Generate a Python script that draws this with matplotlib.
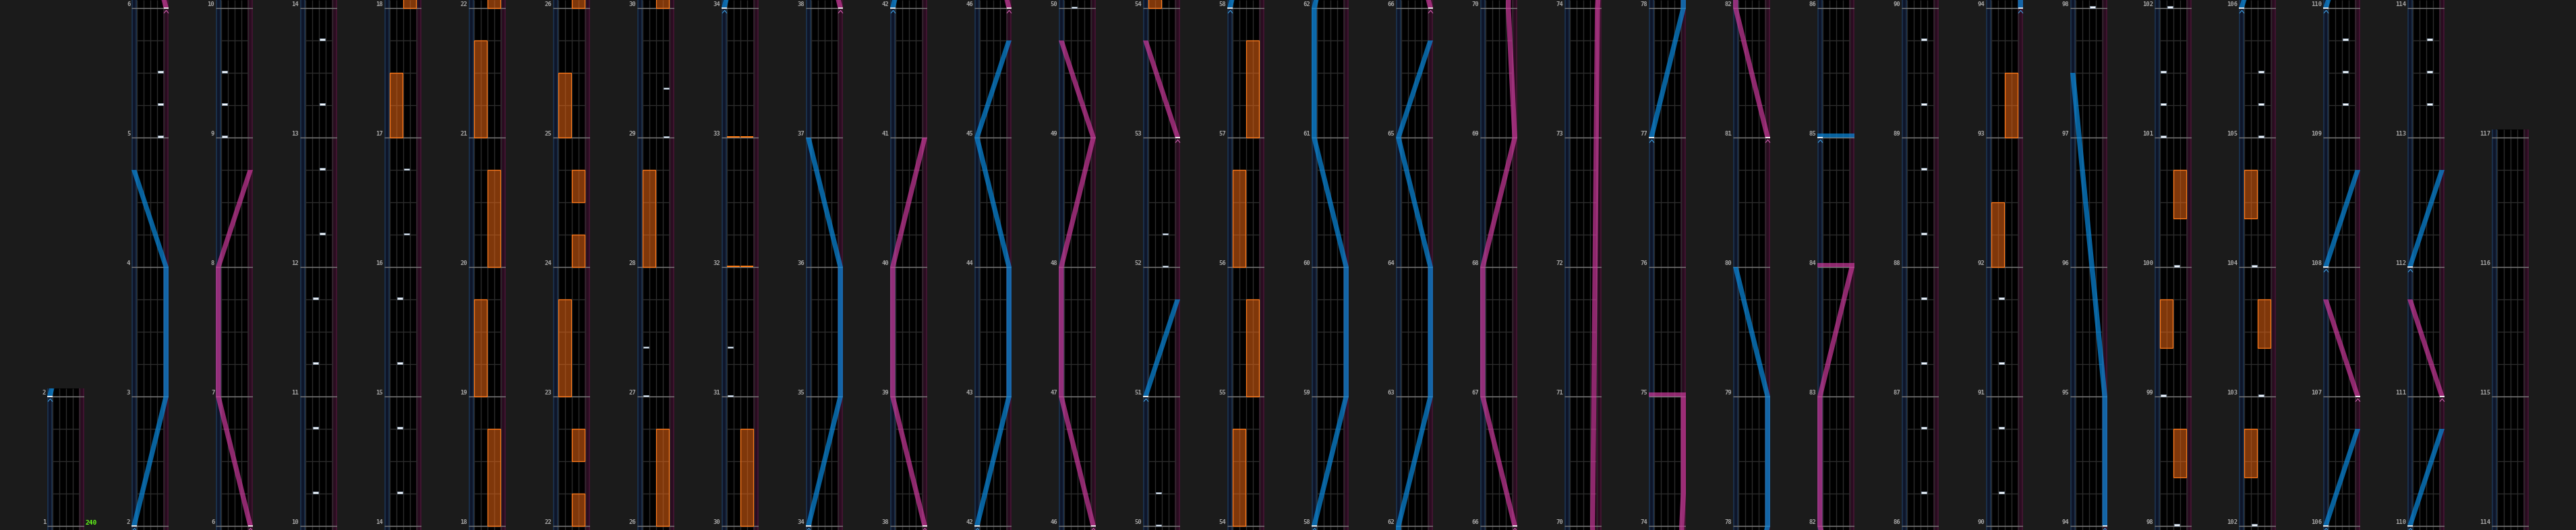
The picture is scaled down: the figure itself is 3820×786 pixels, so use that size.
import matplotlib
matplotlib.use("Agg")
import matplotlib.pyplot as plt
from matplotlib.patches import Rectangle, Polygon
from matplotlib.path import Path
import numpy as np

# ---- chart data (time in measures, lanes 0-3, laser pos 0=left 1=right) ----
FIRST_MEASURE = 1
LAST_MEASURE = 117
BPM_LABEL = "240"

BT_TIME = [5.0, 5.25, 5.5, 9.0, 9.25, 9.5,
           10.25, 10.75, 11.25, 11.75, 12.25, 12.75, 13.25, 13.75,
           14.25, 14.75, 15.25, 15.75, 16.25, 16.75,
           27.0, 27.375, 29.0, 29.375, 31.0, 31.375,
           50.0, 50.25, 52.0, 52.25,
           86.25, 86.75, 87.25, 87.75, 88.25, 88.75, 89.25, 89.75,
           90.25, 90.75, 91.25, 91.75,
           98.0, 99.0, 100.0, 101.0, 101.25, 101.5,
           102.0, 103.0, 104.0, 105.0, 105.25, 105.5,
           109.25, 109.5, 109.75, 113.25, 113.5, 113.75]
BT_LANE = [3, 3, 3, 0, 0, 0,
           1, 1, 1, 1, 2, 2, 2, 2,
           1, 1, 1, 1, 2, 2,
           0, 0, 3, 3, 0, 0,
           1, 1, 2, 2,
           2, 2, 2, 2, 2, 2, 2, 2,
           1, 1, 1, 1,
           2, 0, 2, 0, 0, 0,
           1, 2, 1, 2, 2, 2,
           2, 2, 2, 2, 2, 2]

FX_START = [17.0, 18.0, 19.0, 20.0, 21.0, 22.0, 22.5, 23.0, 24.0, 24.5, 25.0,
            26.0, 28.0, 30.0, 54.0, 55.0, 56.0, 57.0, 92.0, 93.0,
            98.375, 99.375, 100.375, 102.375, 103.375, 104.375]
FX_END = [17.5, 18.75, 19.75, 20.75, 21.75, 22.25, 22.75, 23.75, 24.25, 24.75, 25.5,
          26.75, 28.75, 30.75, 54.75, 55.75, 56.75, 57.75, 92.5, 93.5,
          98.75, 99.75, 100.75, 102.75, 103.75, 104.75]
FX_SIDE = [0, 1, 0, 1, 0, 1, 1, 0, 1, 1, 0,
           1, 0, 1, 0, 1, 0, 1, 0, 1,
           1, 0, 1, 0, 1, 0]

FX_CHIP_TIME = [32.0, 32.0, 33.0, 33.0]
FX_CHIP_SIDE = [0, 1, 0, 1]

LASER_L = [
    [(2, 0), (3, 1), (4, 1), (4.75, 0)],
    [(34, 0), (35, 1), (36, 1), (37, 0)],
    [(42, 0), (43, 1), (44, 1), (45, 0), (45.75, 1)],
    [(51, 0), (51.75, 1)],
    [(58, 0), (59, 1), (60, 1), (61, 0), (62, 0), (63, 1), (64, 1), (65, 0), (65.75, 1)],
    [(77, 0), (78, 1), (79, 1), (80, 0)],
    [(85, 0), (85, 1)],
    [(94, 1), (95, 1), (97.5, 0)],
    [(106, 0), (106.75, 1)],
    [(108, 0), (108.75, 1)],
    [(110, 0), (110.75, 1)],
    [(112, 0), (112.75, 1)],
]
LASER_R = [
    [(6, 1), (7, 0), (8, 0), (8.75, 1)],
    [(38, 1), (39, 0), (40, 0), (41, 1)],
    [(46, 1), (47, 0), (48, 0), (49, 1), (49.75, 0)],
    [(53, 1), (53.75, 0)],
    [(66, 1), (67, 0), (68, 0), (69, 1), (70, 0.8), (74, 0.95),
     (74.25, 1), (75, 1), (75, 0)],
    [(81, 1), (82, 0), (83, 0), (84, 1), (84, 0)],
    [(107, 1), (107.75, 0)],
    [(111, 1), (111.75, 0)],
]

# ---- layout / style ----
W, H, DPI = 3820, 786, 100
MEAS_PX = 192
COL_X0, COL_PITCH, COL_W = 70, 125, 55
PER_COL = 4

BG = "#1b1b1b"
LANE_BG = "#000000"
L_LANE = "#0e1529"
L_EDGE = "#1d3550"
R_LANE = "#2a0c20"
R_EDGE = "#451634"
BEAT = "#2c2c2c"
MEASURE = "#7c7c7c"
LABEL = "#a8a8a8"
BLUE = "#0a8be0"
PINK = "#cc3a9c"
FX_FILL = "#ff6e14"
FX_EDGE = "#ff7a1a"

LW = 0.75  # laser lane width in BT-lane units
HALF = LW / 2
SLAM_H = 6 / MEAS_PX

plt.rcParams["font.family"] = ["DejaVu Sans Mono", "DejaVu Sans"]

CHEVRON = Path([(-1, -0.6), (0, 0.6), (1, -0.6)],
               [Path.MOVETO, Path.LINETO, Path.LINETO])


def laser_x(p):
    return -HALF + p * (4 + LW)


def draw_run(ax, pts, color):
    if len(pts) < 2:
        return
    ts = [t for t, _ in pts]
    xs = [laser_x(p) for _, p in pts]
    left = [(x - HALF, t) for x, t in zip(xs, ts)]
    right = [(x + HALF, t) for x, t in zip(xs, ts)][::-1]
    ax.add_patch(Polygon(left + right, closed=True, facecolor=color, alpha=0.7,
                         edgecolor="none", zorder=5))


def draw_laser(ax, pts, color, chev):
    # equal consecutive times mark a slam
    run = [pts[0]]
    for a, b in zip(pts[:-1], pts[1:]):
        if b[0] == a[0]:
            draw_run(ax, run, color)
            xa, xb = sorted([laser_x(a[1]), laser_x(b[1])])
            ax.add_patch(Rectangle((xa - HALF, a[0]), xb - xa + LW, SLAM_H,
                                   facecolor=color, alpha=0.7, edgecolor="none",
                                   zorder=5))
            run = [b]
        else:
            run.append(b)
    draw_run(ax, run, color)
    t0, x0 = pts[0][0], laser_x(pts[0][1])
    ax.plot([x0 - HALF, x0 + HALF], [t0, t0], color="white", lw=1.2, zorder=6,
            solid_capstyle="butt")
    ax.plot([x0], [t0 - 5 / MEAS_PX], marker=CHEVRON, ms=5, mfc="none",
            mec=chev, mew=0.8, zorder=6)


fig = plt.figure(figsize=(W / DPI, H / DPI), dpi=DPI, facecolor=BG)

n_cols = (LAST_MEASURE + 2) // PER_COL + 1
for k in range(n_cols):
    m0 = max(FIRST_MEASURE, PER_COL * k - 2)
    m1 = min(LAST_MEASURE, PER_COL * k + 2)
    if m1 <= m0 and k > 0:
        continue
    lo = m0 - 6 / MEAS_PX
    hi = m1 + 12 / MEAS_PX
    ax = fig.add_axes([(COL_X0 + COL_PITCH * k) / W, 0,
                       COL_W / W, (hi - lo) * MEAS_PX / H])
    ax.set_xlim(-LW, 4 + LW)
    ax.set_ylim(lo, hi)
    ax.set_facecolor(LANE_BG)
    ax.axis("off")
    ax.add_patch(Rectangle((0, 0), 1, 1, transform=ax.transAxes,
                           facecolor=LANE_BG, zorder=0))

    # side lanes
    ax.add_patch(Rectangle((-LW, lo), LW, hi - lo, facecolor=L_LANE,
                           edgecolor="none", zorder=1))
    ax.add_patch(Rectangle((4, lo), LW, hi - lo, facecolor=R_LANE,
                           edgecolor="none", zorder=1))
    ax.vlines([-LW + 0.08, -0.08], lo, hi, color=L_EDGE, lw=1.2, zorder=1.2)
    ax.vlines([4.08, 4 + LW - 0.08], lo, hi, color=R_EDGE, lw=1.2, zorder=1.2)

    # grid
    beats = np.arange(np.ceil(lo * 4), np.floor(hi * 4) + 1) / 4
    ax.hlines(beats, 0, 4, color=BEAT, lw=1.0, zorder=1.5)
    ax.vlines([0, 1, 2, 3, 4], lo, hi, color=BEAT, lw=1.0, zorder=1.5)
    measures = np.arange(m0, m1 + 1)
    ax.hlines(measures, -LW, 4 + LW, color=MEASURE, lw=1.0, zorder=2)

    for m in measures:
        ax.annotate(str(m), xy=(0, m), xycoords=("axes fraction", "data"),
                    xytext=(-1.2, 0.6), textcoords="offset points",
                    ha="right", va="bottom", fontsize=6.4, weight="bold",
                    color=LABEL)
    if k == 0:
        ax.annotate(BPM_LABEL, xy=(1, m0), xycoords=("axes fraction", "data"),
                    xytext=(0.8, 0.2), textcoords="offset points",
                    ha="left", va="bottom", fontsize=6.8, weight="bold",
                    color="#66ff1a")

    # long FX
    for s, e, side in zip(FX_START, FX_END, FX_SIDE):
        ax.add_patch(Rectangle((side * 2 + 0.08, s), 1.84, e - s,
                               facecolor=FX_FILL, alpha=0.5, edgecolor="none",
                               zorder=3))
        ax.add_patch(Rectangle((side * 2 + 0.08, s), 1.84, e - s,
                               facecolor="none", edgecolor=FX_EDGE, lw=0.9,
                               zorder=3.1))
    # FX chips
    for t, side in zip(FX_CHIP_TIME, FX_CHIP_SIDE):
        ax.add_patch(Rectangle((side * 2 + 0.08, t), 1.84, 2.2 / MEAS_PX,
                               facecolor="#ff7a10", edgecolor="none", zorder=3.2))
    # BT chips
    for t, lane in zip(BT_TIME, BT_LANE):
        ax.add_patch(Rectangle((lane + 0.1, t + 0.3 / MEAS_PX), 0.8, 2.2 / MEAS_PX,
                               facecolor="#f2f6fa", edgecolor="#8ea4bb", lw=0.5,
                               zorder=4))
    # lasers
    for pts in LASER_L:
        draw_laser(ax, pts, BLUE, "#3f9fe0")
    for pts in LASER_R:
        draw_laser(ax, pts, PINK, "#d060b0")

fig.savefig("out.png", dpi=DPI, facecolor=BG)
